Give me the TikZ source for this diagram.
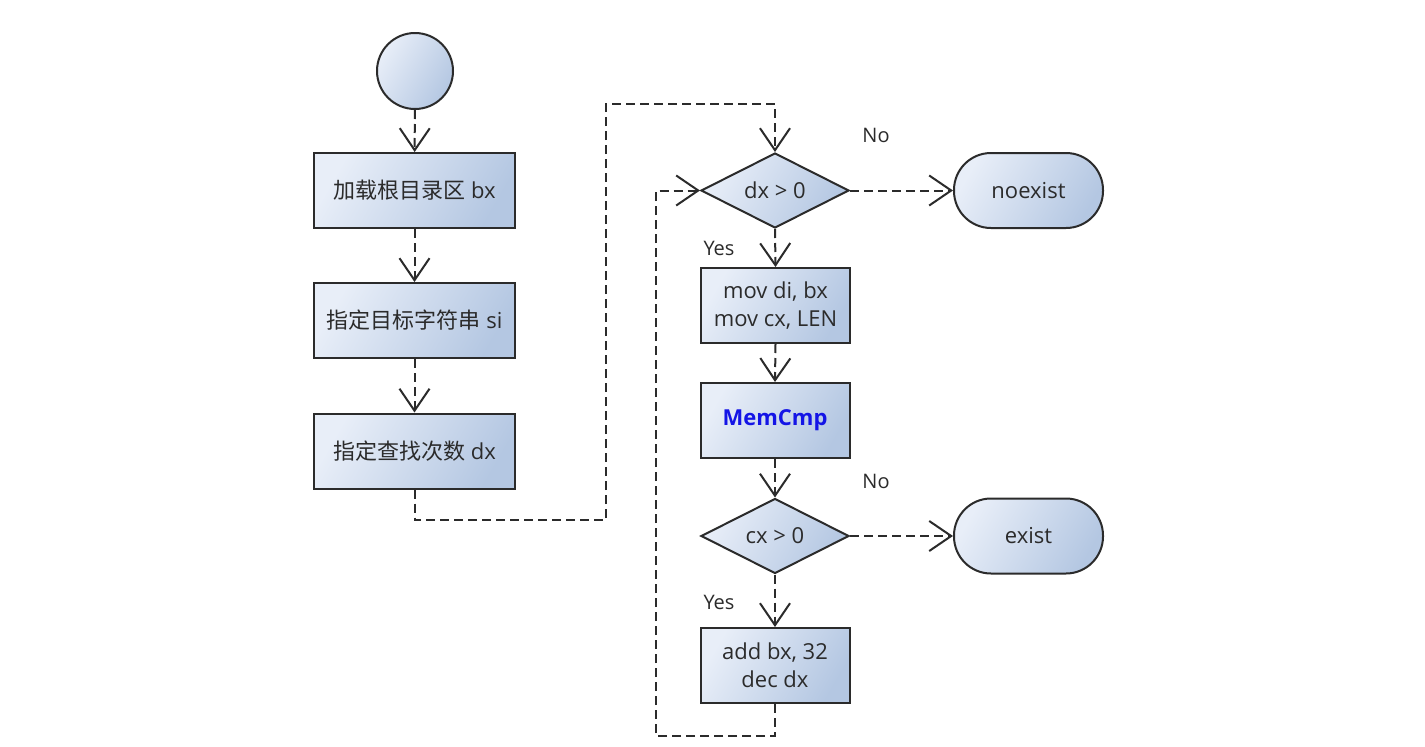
\documentclass[tikz,border=0pt]{standalone}
\usepackage{fontspec}
\setmainfont{Open Sans}
\newfontfamily\cjk{Noto Sans CJK SC}
\usetikzlibrary{arrows.meta,shapes.geometric}
\definecolor{boxA}{HTML}{E8EEF8}
\definecolor{boxB}{HTML}{B4C7E2}
\definecolor{ink}{HTML}{2B2B2B}
\definecolor{memblue}{HTML}{1414E6}
\begin{document}
\begin{tikzpicture}[x=1pt,y=-1pt,
  base/.style={draw=ink, line width=2pt, left color=boxA, right color=boxB, shading angle=60,
    text=ink, font=\fontsize{22}{28}\selectfont, align=center, inner sep=0pt},
  bigbox/.style={base, rectangle, minimum width=201pt, minimum height=75pt},
  smallbox/.style={base, rectangle, minimum width=149pt, minimum height=75pt},
  decision/.style={base, diamond, aspect=1.97, minimum width=148pt, minimum height=75pt},
  terminal/.style={base, rectangle, rounded corners=37pt, minimum width=149pt, minimum height=75pt},
  startnode/.style={base, circle, minimum size=76pt},
  flow/.style={draw=ink, line width=2pt, dash pattern=on 9pt off 5pt,
    -{Straight Barb[length=22pt,width=30pt,line width=2pt]}},
  lbl/.style={text=ink, font=\fontsize{20}{24}\selectfont, inner sep=0pt}
]
\useasboundingbox[fill=white] (0,0) rectangle (1425,747);

\node[startnode] (s) at (415,71) {};
\node[bigbox] (b1) at (414.5,190.5) {{\cjk 加载根目录区} bx};
\node[bigbox] (b2) at (414.5,320.5) {{\cjk 指定目标字符串} si};
\node[bigbox] (b3) at (414.5,451) {{\cjk 指定查找次数} dx};

\node[decision] (d1) at (775,190.5) {dx > 0};
\node[terminal] (t1) at (1028.5,190.5) {noexist};
\node[smallbox] (b4) at (775.5,305.5) {mov di, bx\\mov cx, LEN};
\node[smallbox] (b5) at (775,420.5) {\textcolor{memblue}{\bfseries MemCmp}};
\node[decision] (d2) at (775,536) {cx > 0};
\node[terminal] (t2) at (1028.5,536) {exist};
\node[smallbox] (b6) at (775,665.5) {add bx, 32\\dec dx};

\node[lbl] (n1) at (876,135) {No};
\node[lbl] (y1) at (719,248) {Yes};
\node[lbl] (n2) at (876,481) {No};
\node[lbl] (y2) at (719,602) {Yes};

\coordinate (p1) at (606,520);
\coordinate (p2) at (606,104);
\coordinate (p3) at (656,736);

\draw[flow] (s) -- (b1);
\draw[flow] (b1) -- (b2);
\draw[flow] (b2) -- (b3);
\draw[flow] (b3.south) |- (p1) -- (p2) -| (d1.north);
\draw[flow] (d1.east) -- (t1.west);
\draw[flow] (d1.south) -- (b4.north);
\draw[flow] (b4.south) -- (b5.north);
\draw[flow] (b5.south) -- (d2.north);
\draw[flow] (d2.east) -- (t2.west);
\draw[flow] (d2.south) -- (b6.north);
\draw[flow] (b6.south) |- (p3) |- (d1.west);
\end{tikzpicture}
\end{document}
